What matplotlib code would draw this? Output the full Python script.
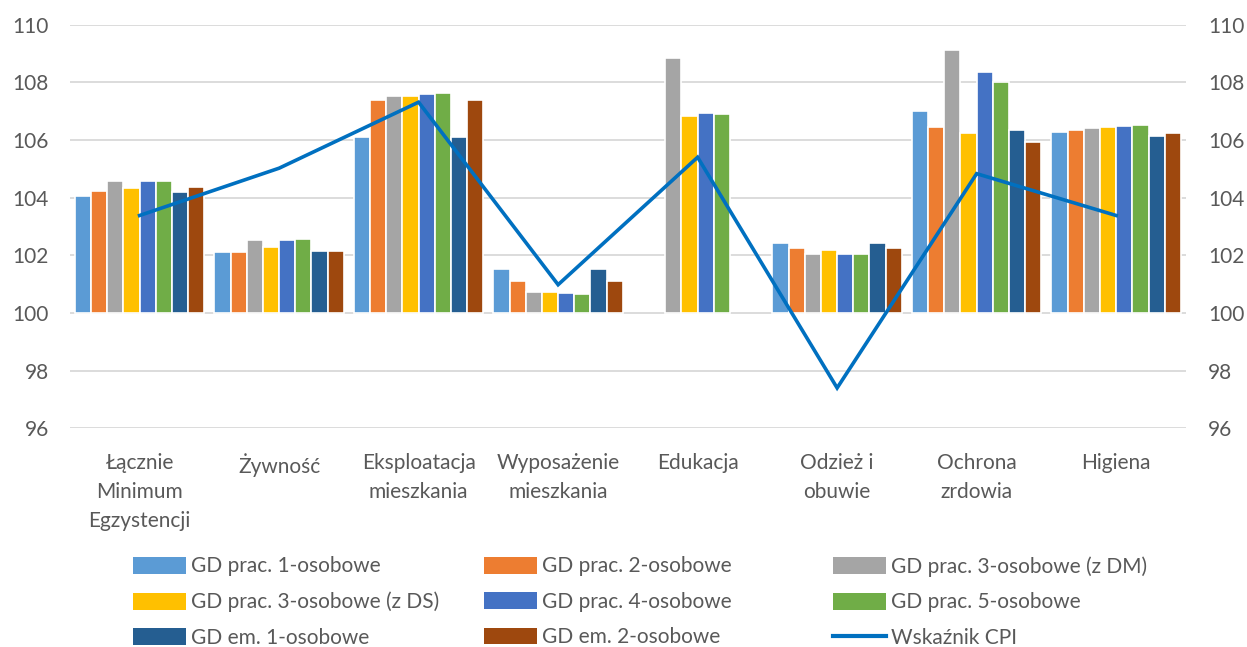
import numpy as np
import matplotlib.pyplot as plt
from matplotlib.patches import Patch
from matplotlib.lines import Line2D

categories = ["Łącznie\nMinimum\nEgzystencji", "Żywność", "Eksploatacja\nmieszkania",
              "Wyposażenie\nmieszkania", "Edukacja", "Odzież i\nobuwie",
              "Ochrona\nzrdowia", "Higiena"]

series_names = ["GD prac. 1-osobowe", "GD prac. 2-osobowe", "GD prac. 3-osobowe (z DM)",
                "GD prac. 3-osobowe (z DS)", "GD prac. 4-osobowe", "GD prac. 5-osobowe",
                "GD em. 1-osobowe", "GD em. 2-osobowe"]

nan = np.nan
prac_1 = [104.06, 102.11, 106.10, 101.54, nan, 102.42, 107.02, 106.27]
prac_2 = [104.23, 102.11, 107.39, 101.11, nan, 102.26, 106.44, 106.35]
prac_3_dm = [104.57, 102.52, 107.53, 100.74, 108.85, 102.03, 109.12, 106.42]
prac_3_ds = [104.34, 102.30, 107.53, 100.74, 106.84, 102.19, 106.25, 106.45]
prac_4 = [104.56, 102.54, 107.60, 100.68, 106.95, 102.04, 108.36, 106.50]
prac_5 = [104.56, 102.56, 107.64, 100.65, 106.91, 102.04, 108.00, 106.52]
em_1 = [104.19, 102.14, 106.10, 101.54, nan, 102.42, 106.33, 106.15]
em_2 = [104.38, 102.14, 107.39, 101.11, nan, 102.26, 105.92, 106.25]
cpi = [103.38, 105.02, 107.31, 100.98, 105.40, 97.40, 104.83, 103.38]

colors = ["#5B9BD5", "#ED7D31", "#A5A5A5", "#FFC000", "#4472C4", "#70AD47", "#255E91", "#9E480E"]
cpi_color = "#0070C0"
text_color = "#595959"

plt.rcParams["font.family"] = ["Lato", "DejaVu Sans"]
fs = 15

fig = plt.figure(figsize=(12.47, 6.47), dpi=100)
ax = fig.add_axes([0.056, 0.338, 0.895, 0.624])

series = [prac_1, prac_2, prac_3_dm, prac_3_ds, prac_4, prac_5, em_1, em_2]
x = np.arange(len(categories))
slot = 0.116
for i, (vals, col) in enumerate(zip(series, colors)):
    vals = np.array(vals, dtype=float)
    offset = (i - 3.5) * slot
    ax.bar(x + offset, vals - 100, bottom=100, width=slot, color=col,
           edgecolor="white", linewidth=1.2, zorder=2)

ax.plot(x, cpi, color=cpi_color, linewidth=2.6, zorder=3, solid_joinstyle="miter")

ax.set_xlim(-0.5, len(categories) - 0.5)
ax.set_ylim(96, 110)
ax.set_yticks(np.arange(96, 111, 2))
ax.grid(axis="y", color="#D9D9D9", linewidth=1.3, zorder=0)
ax.set_axisbelow(True)
for s in ax.spines.values():
    s.set_visible(False)
ax.tick_params(axis="both", length=0, labelsize=fs, labelcolor=text_color)
ax.tick_params(axis="y", pad=15)
ax.set_xticks(x)
ax.set_xticklabels(categories, linespacing=1.55)
ax.tick_params(axis="x", pad=18)

ax2 = ax.twinx()
ax2.set_ylim(96, 110)
ax2.set_yticks(np.arange(96, 111, 2))
for s in ax2.spines.values():
    s.set_visible(False)
ax2.tick_params(axis="y", length=0, labelsize=fs, labelcolor=text_color, pad=16)

handles = [Patch(facecolor=c, edgecolor="none") for c in colors]
handles.append(Line2D([0], [0], color=cpi_color, linewidth=3))
labels = series_names + ["Wskaźnik CPI"]

col_x = [133 / 1247, 484 / 1247, 833 / 1247]
for c in range(3):
    idx = [c, c + 3, c + 6]
    fig.legend([handles[k] for k in idx], [labels[k] for k in idx],
               loc="upper left", bbox_to_anchor=(col_x[c] - 0.008, 1 - 546 / 647),
               frameon=False, fontsize=fs, handlelength=2.5, handleheight=0.85,
               handletextpad=0.25, labelspacing=0.74, borderpad=0,
               labelcolor=text_color)

fig.savefig("out.png", dpi=100)
